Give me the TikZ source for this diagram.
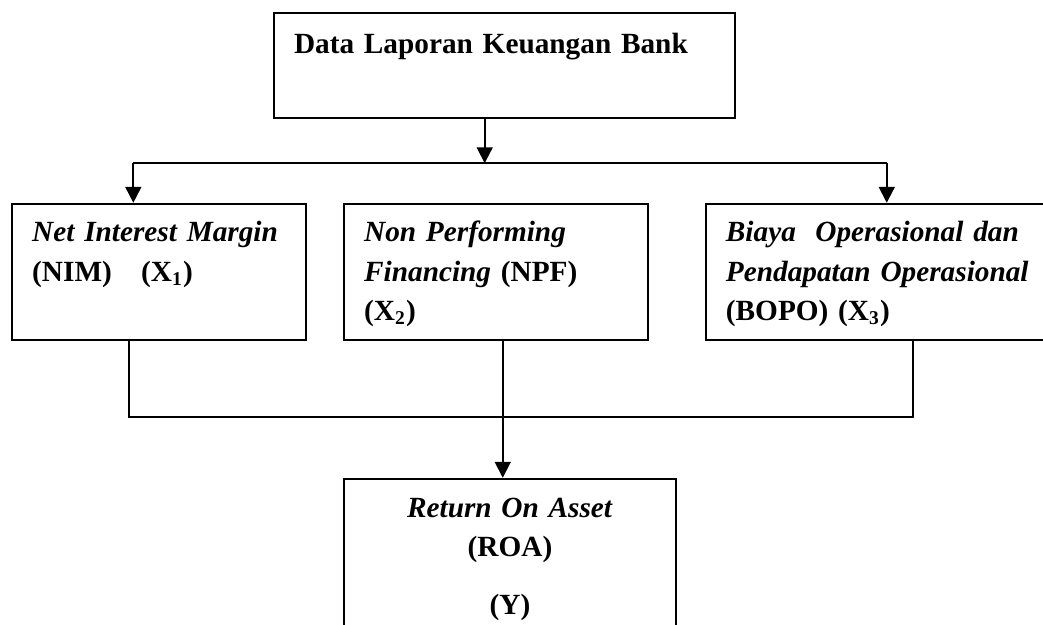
\documentclass[tikz,border=0pt]{standalone}
\usepackage{fontspec}
\setmainfont{Liberation Serif}
\usepackage{tikz}
\usetikzlibrary{arrows.meta,calc,positioning}

\begin{document}
\begin{tikzpicture}[every node/.style={font=\bfseries\fontsize{12}{16.1}\selectfont},
  kotak/.style={draw,line width=0.8pt,anchor=north west,inner xsep=0.29cm,inner ysep=0pt,
                align=left,text height=0.55cm,text depth=1.41cm},
  garis/.style={line width=0.8pt},
  panah/.style={line width=0.8pt,-{Triangle[length=6.5pt,width=6.5pt]}}]
\useasboundingbox (0,0) rectangle (15.02,-9.00);
\clip (0,0) rectangle (15.02,-9.00);
\node[kotak,text width=6.06cm,text height=0.59cm,text depth=0.92cm] (data) at (3.93,-0.17)
  {Data Laporan Keuangan Bank};
\node[kotak,text width=3.65cm] (nim) at (0.16,-2.92)
  {\textit{Net Interest Margin}\\ (NIM)\ \ \ (X\textsubscript{1})};
\node[kotak,text width=3.80cm] (npf) at (4.94,-2.92)
  {\textit{Non Performing}\\ \textit{Financing} (NPF)\\ (X\textsubscript{2})};
\node[kotak,text width=4.60cm] (bopo) at (10.15,-2.92)
  {\textit{Biaya\ \ Operasional dan}\\ \textit{Pendapatan Operasional}\\ (BOPO) (X\textsubscript{3})};
\node[kotak,align=center,text width=4.20cm,text height=0.56cm,text depth=2.45cm] (roa) at (4.94,-6.88)
  {\textit{Return On Asset}\\ (ROA)\\[7.4pt] (Y)};
% percabangan atas
\coordinate (cabang) at (6.98,-2.35);
\coordinate (kiri) at (1.92,-2.35);
\coordinate (kanan) at (12.77,-2.35);
\draw[panah] (data.south -| cabang) -- (cabang);
\draw[garis] (kiri) -- (kanan);
\foreach \k/\n in {kiri/nim, kanan/bopo} \draw[panah] (\k) -- (\k |- \n.north);
% penggabungan bawah
\coordinate (gL) at (1.86,-6.00);
\coordinate (gM) at (7.24,-6.00);
\coordinate (gR) at (13.15,-6.00);
\draw[garis] (nim.south -| gL) -- (gL) -- (gR) -- (bopo.south -| gR);
\draw[garis] (npf.south -| gM) -- (gM);
\draw[panah] (gM) -- (gM |- roa.north);
\end{tikzpicture}
\end{document}
